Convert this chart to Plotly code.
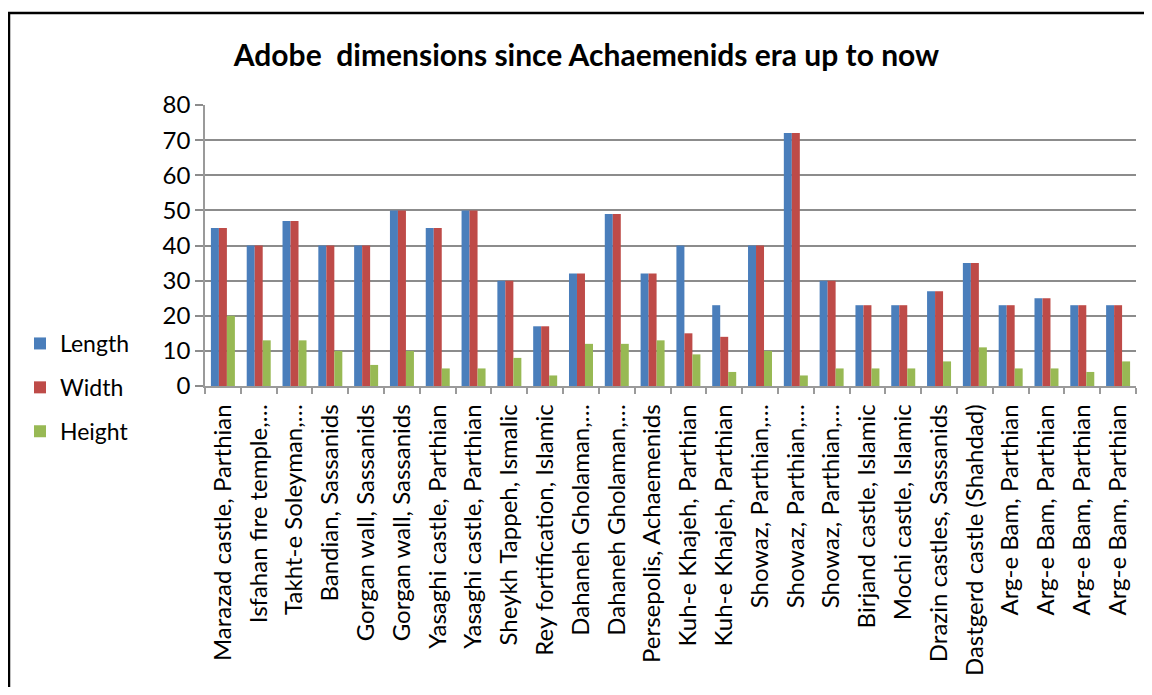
import plotly.graph_objects as go

categories = [
    "Marazad castle, Parthian", "Isfahan fire temple,…", "Takht-e Soleyman,…",
    "Bandian, Sassanids", "Gorgan wall, Sassanids", "Gorgan wall, Sassanids",
    "Yasaghi castle, Parthian", "Yasaghi castle, Parthian", "Sheykh Tappeh, Ismalic",
    "Rey fortification, Islamic", "Dahaneh Gholaman,…", "Dahaneh Gholaman,…",
    "Persepolis, Achaemenids", "Kuh-e Khajeh, Parthian", "Kuh-e Khajeh, Parthian",
    "Showaz, Parthian,…", "Showaz, Parthian,…", "Showaz, Parthian,…",
    "Birjand castle, Islamic", "Mochi castle, Islamic", "Drazin castles, Sassanids",
    "Dastgerd castle (Shahdad)", "Arg-e Bam, Parthian", "Arg-e Bam, Parthian",
    "Arg-e Bam, Parthian", "Arg-e Bam, Parthian",
]
length = [45, 40, 47, 40, 40, 50, 45, 50, 30, 17, 32, 49, 32, 40, 23, 40, 72, 30, 23, 23, 27, 35, 23, 25, 23, 23]
width = [45, 40, 47, 40, 40, 50, 45, 50, 30, 17, 32, 49, 32, 15, 14, 40, 72, 30, 23, 23, 27, 35, 23, 25, 23, 23]
height = [20, 13, 13, 10, 6, 10, 5, 5, 8, 3, 12, 12, 13, 9, 4, 10, 3, 5, 5, 5, 7, 11, 5, 5, 4, 7]
series_names = ["Length", "Width", "Height"]
colors = ["#4A7EBB", "#BE4B48", "#98B954"]

positions = list(range(1, len(categories) + 1))
FONT = "Lato"

fig = go.Figure()
for i, (name, vals) in enumerate(zip(series_names, [length, width, height])):
    fig.add_trace(go.Bar(
        x=positions, y=vals, name=name, marker_color=colors[i],
        marker_line_width=0, legendgroup=name,
    ))

# page has an 8px body margin on every side
W, H = 1136, 679
L, R, T, B = 197, 8, 97, 301
pw, ph = W - L - R, H - T - B

def px_x(p):
    return (p - L) / pw

def px_y(p):
    return (H - B - p) / ph

fig.update_layout(
    width=W, height=H,
    margin=dict(l=L, r=R, t=T, b=B, autoexpand=False),
    paper_bgcolor="white", plot_bgcolor="white",
    barmode="group", bargap=0.33, bargroupgap=0,
    font=dict(family=FONT, color="black"),
    title=dict(text="<b>Adobe  dimensions since Achaemenids era up to now</b>",
               x=578.5 / W, xanchor="center", y=1 - 47 / H, yanchor="middle",
               font=dict(size=30, family=FONT, color="black")),
    legend=dict(x=px_x(12), xanchor="left", y=px_y(314), yanchor="top",
                traceorder="grouped", tracegroupgap=11,
                font=dict(size=23, family=FONT), itemwidth=30,
                bgcolor="rgba(0,0,0,0)"),
    showlegend=True,
    xaxis=dict(
        range=[0.5, len(categories) + 0.5], automargin=False,
        tickmode="array", tickvals=positions, ticktext=categories,
        tickangle=-90, tickfont=dict(size=24, family=FONT),
        ticks="", showgrid=False, ticklabelstandoff=7,
        showline=True, linecolor="#9a9a9a", linewidth=1.5,
        minor=dict(tickmode="array", tickvals=[p + 0.5 for p in [0] + positions],
                   ticks="outside", ticklen=6, tickcolor="#9a9a9a", tickwidth=1.5),
        zeroline=False,
    ),
    yaxis=dict(
        range=[0, 80], dtick=10, tick0=0, automargin=False,
        tickfont=dict(size=24, family=FONT),
        showgrid=True, gridcolor="#8c8c8c", gridwidth=1.5,
        ticks="outside", ticklen=8, tickcolor="#8c8c8c", tickwidth=1.5,
        showline=True, linecolor="#9a9a9a", linewidth=1.5,
        zeroline=False,
    ),
    shapes=[
        dict(type="line", xref="paper", yref="paper",
             x0=px_x(1), x1=px_x(1), y0=px_y(5), y1=px_y(H + 5),
             line=dict(color="black", width=2.5), layer="below"),
        dict(type="line", xref="paper", yref="paper",
             x0=px_x(0), x1=px_x(W + 5), y0=px_y(5), y1=px_y(5),
             line=dict(color="black", width=2.5), layer="below"),
    ],
)

fig.write_html("out.html")
